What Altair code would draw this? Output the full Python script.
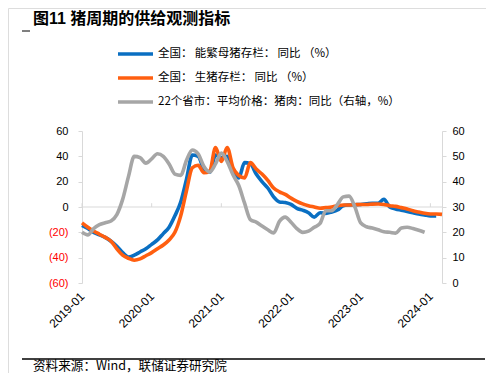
import altair as alt
import pandas as pd

# ---------------- data ----------------
months = [f"{2019 + i // 12}-{i % 12 + 1:02d}" for i in range(63)]

# 全国:能繁母猪存栏:同比 (%)  2019-01 .. 2024-02
sow_yoy = [-14.5, -17, -20, -22, -24, -27, -31, -36, -39.5, -38, -35.5, -33,
           -29.5, -26, -21, -16, -7, 4, 22, 41, 40, 30, 27.6, 41,
           39, 40, 28, 23, 35, 34, 26, 20, 15, 8, 4, 3.5,
           2, -1, -2.5, -4.5, -8, -4.5, -5, -4, -2.4, 1, 1.6, 1.8,
           2, 2.5, 3, 3, 6, 0, -1.5, -2.5, -3.5, -4.5, -5.5, -6.3,
           -7, -7]

# 全国:生猪存栏:同比 (%)  2019-01 .. 2024-03
hog_yoy = [-12.5, -16, -19, -21.5, -24, -27, -33, -38, -40.5, -42, -41, -38.5,
           -36, -33, -30, -26, -20, -7, 13, 31, 33, 27, 28.5, 47,
           36, 47, 31, 25, 23, 35, 30, 26, 21, 15, 12, 10,
           7, 4.5, 2.5, 1, 0, -1, -0.5, 0, 1, 1.6, 1.6, 1.8,
           2, 2, 2.3, 2.4, 2, 1, 0.5, -0.5, -1.5, -3, -4, -5,
           -5.5, -5.5, -5.8]

# 22个省市:平均价格:猪肉:同比 (右轴, %)  2019-01 .. 2023-12
pork_yoy = [20, 19, 21.5, 23, 23.8, 24.5, 27, 33, 42, 50, 49.5, 47.3,
            49, 51, 50, 47, 43, 42.5, 48.5, 52.5, 51, 46, 43.8, 47,
            51.3, 48, 42.7, 38.5, 31.5, 25, 24, 22.5, 21, 19.8, 24.3, 26,
            24, 21.5, 20, 20.5, 22, 23.5, 28.5, 28.5, 31, 34, 34.3, 30,
            23.7, 22.2, 21.7, 21, 20.2, 20, 19.7, 21.7, 22, 21.5, 20.8, 20]

year_ticks = [0, 12, 24, 36, 48, 60]
left_ticks = [-60, -40, -20, 0, 20, 40, 60]
right_ticks = [0, 10, 20, 30, 40, 50, 60]

TS = "\u2009"
series_names = [f"全国：{TS}能繁母猪存栏：{TS}同比{TS}（%）",
                f"全国：{TS}生猪存栏：{TS}同比{TS}（%）",
                "22个省市：平均价格：猪肉：同比（右轴，%）"]
series_colors = ["#0a6fc2", "#ff5f10", "#a6a6a6"]

title_text = "图11 猪周期的供给观测指标"
source_text = "资料来源：Wind，联储证券研究院"


def frame(vals):
    return pd.DataFrame({"t": list(range(len(vals))), "month": months[:len(vals)], "v": vals})


blue_df = frame(sow_yoy)
orange_df = frame(hog_yoy)
gray_df = frame(pork_yoy)
ticks_df = pd.DataFrame({"t": year_ticks})
one = pd.DataFrame({"a": [0]})

AX_FONT = "Liberation Sans"
CJK = "Noto Sans CJK SC"
GRID = "#d9d9d9"

# the whole 478x365 canvas is the view; the plot rectangle is x 74..434, y 123..275
W, H = 478, 365
PX0, PX1, PY0, PY1 = 74, 434, 123, 275

x_scale = alt.Scale(domain=[0, 62], range=[PX0, PX1], nice=False, zero=False)
left_scale = alt.Scale(domain=[-60, 60], range=[PY1, PY0], nice=False, zero=False)
right_scale = alt.Scale(domain=[0, 60], range=[PY1, PY0], nice=False, zero=False)

x_axis = alt.Axis(values=year_ticks, labelExpr="(2019 + datum.value / 12) + '-01'",
                  labelAngle=315, labelAlign="right", labelBaseline="middle",
                  labelPadding=11, ticks=False, tickSize=0, domain=False, grid=False,
                  offset=-(H - PY1), title=None, labelFont=AX_FONT, labelFontSize=12,
                  labelColor="#000000")


def xenc():
    return alt.X("t:Q", scale=x_scale, axis=x_axis)


left_axis = alt.Axis(values=left_ticks, offset=-PX0,
                     labelExpr="datum.value < 0 ? '(' + abs(datum.value) + ')' : datum.value + '\u00a0'",
                     labelColor={"condition": {"test": "datum.value < 0", "value": "#ff0000"},
                                 "value": "#000000"},
                     labelFont=AX_FONT, labelFontSize=11, labelPadding=10,
                     tickSize=4, tickColor=GRID, domainColor=GRID, grid=False, title=None)

right_axis = alt.Axis(orient="right", values=right_ticks, offset=-(W - PX1),
                      labelFont=AX_FONT, labelFontSize=11,
                      labelColor="#000000", labelPadding=6, tickSize=4, tickColor=GRID,
                      domainColor=GRID, grid=False, title=None)

zero_line = alt.Chart(one).mark_rule(color=GRID, strokeWidth=1).encode(
    x=alt.value(PX0), x2=alt.value(PX1),
    y=alt.datum(0, scale=left_scale, axis=None))

tick_marks = alt.Chart(ticks_df).mark_rule(color=GRID, strokeWidth=1).encode(
    x=xenc(),
    y=alt.datum(0, scale=left_scale, axis=None),
    y2=alt.datum(3))

blue = alt.Chart(blue_df).mark_line(color=series_colors[0], strokeWidth=3.6,
                                    interpolate="monotone").encode(
    x=xenc(),
    y=alt.Y("v:Q", scale=left_scale, axis=left_axis))

orange = alt.Chart(orange_df).mark_line(color=series_colors[1], strokeWidth=3.6,
                                        interpolate="monotone").encode(
    x=xenc(),
    y=alt.Y("v:Q", scale=left_scale, axis=None))

gray = alt.Chart(gray_df).mark_line(color=series_colors[2], strokeWidth=3.6,
                                    interpolate="monotone").encode(
    x=xenc(),
    y=alt.Y("v:Q", scale=right_scale, axis=right_axis))


# ---- text and decorations, positioned in canvas pixels (page pixels minus 8) ----
def text(txt, px, py, size, weight="normal", font=CJK, color="#000000"):
    return alt.Chart(one).mark_text(align="left", baseline="middle", font=font,
                                    fontSize=size, fontWeight=weight, color=color).encode(
        x=alt.value(px), y=alt.value(py), text=alt.value(txt))


def hline(x1, x2, py, color, width):
    return alt.Chart(one).mark_rule(color=color, strokeWidth=width).encode(
        x=alt.value(x1), x2=alt.value(x2), y=alt.value(py))


legend_rows = [46, 70, 94]
deco = [text(title_text, 25, 11, 16, weight="bold",
             font="Liberation Sans, Noto Sans CJK SC"),
        hline(14, 22, 23, "#000000", 1),
        hline(14, 477, 351, "#000000", 1.5),
        text(source_text, 25, 358, 12.6)]
for name, col, ry in zip(series_names, series_colors, legend_rows):
    deco.append(hline(110, 145, ry, col, 3.5))
    deco.append(text(name, 150, ry, 11.5))

chart = alt.layer(zero_line, tick_marks, blue, orange, gray, *deco).resolve_scale(
    y="independent"
).properties(
    width=W, height=H,
    autosize=alt.AutoSizeParams(type="none"),
    padding=0,
).configure_view(stroke=None).configure(background="#ffffff")

chart.save("out.html", embed_options={"renderer": "svg", "actions": False})
